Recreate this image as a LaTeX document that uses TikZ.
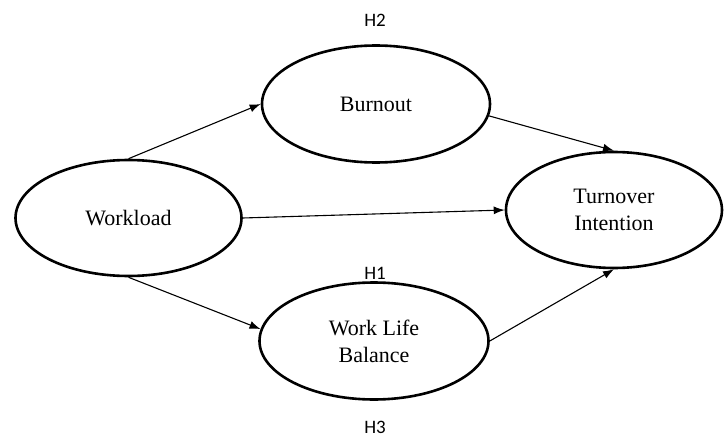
\documentclass[tikz,border=0pt]{standalone}
\usepackage{fontspec}
\setmainfont{Liberation Serif}
\newfontfamily\hfont{Carlito}
\usetikzlibrary{shapes.geometric,arrows.meta}
\begin{document}
\begin{tikzpicture}[x=1pt,y=-1pt,
  construct/.style={ellipse,draw,line width=2.6pt,inner sep=0pt,align=center,
    font=\fontsize{22}{27}\selectfont},
  hlabel/.style={font=\hfont\fontsize{19}{22}\selectfont,inner sep=0pt},
  link/.style={line width=1.1pt,-{Latex[length=11pt,width=8pt]}}]
\useasboundingbox (0,0) rectangle (724,439);
\node[construct,minimum width=226pt,minimum height=116pt] (wl) at (128.5,218) {Workload};
\node[construct,minimum width=228pt,minimum height=117pt] (bo) at (376,104) {Burnout};
\node[construct,minimum width=216pt,minimum height=116pt] (ti) at (614,210) {Turnover\\Intention};
\node[construct,minimum width=229pt,minimum height=117pt] (wlb) at (374,341) {Work Life\\Balance};
\node[hlabel] (h2) at (375,20) {H2};
\node[hlabel] (h1) at (375,273) {H1};
\node[hlabel] (h3) at (375,427) {H3};
\draw[link] (wl.north) -- (bo.west);
\draw[link] (bo.-6) -- (ti.north);
\draw[link] (wl.east) -- (ti.west);
\draw[link] (wl.south) -- (wlb.174);
\draw[link] (wlb.east) -- (ti.south);
\end{tikzpicture}
\end{document}
